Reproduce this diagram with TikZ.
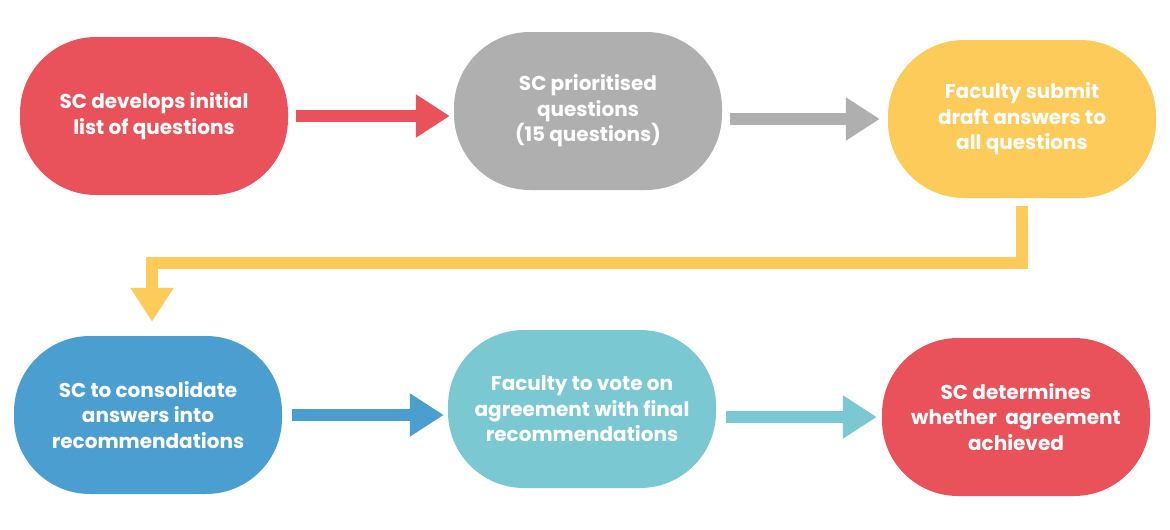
\documentclass[tikz,border=0pt]{standalone}
\usepackage{fontspec}
\setmainfont{Poppins}
\usepackage{tikz}
\usetikzlibrary{arrows.meta,positioning,calc}
\definecolor{cred}{HTML}{E9525A}
\definecolor{cgray}{HTML}{AFAFAF}
\definecolor{cyellow}{HTML}{FDCB5A}
\definecolor{cblue}{HTML}{4A9FD0}
\definecolor{cteal}{HTML}{79C8D2}

\begin{document}
\begin{tikzpicture}[x=1pt,y=-1pt,node distance=434pt,font=\bfseries\fontsize{20}{25.5}\selectfont]
	\tikzstyle{blob}=[rounded corners=76pt,minimum width=268pt,minimum height=158pt,text=white,align=center]
	\tikzstyle{flow}=[line width=12pt,-{Triangle[width=41pt,length=34pt]},shorten <=8pt,shorten >=4pt]
	\useasboundingbox (0,0) rectangle (1170,530);
	
	\node[blob,fill=cred](1) at (154,116){SC develops initial\\list of questions};
	\node[blob,fill=cgray](2)[right of=1,yshift=5pt]{SC prioritised\\questions\\(15 questions)};
	\node[blob,fill=cyellow](3)[right of=2,yshift=-8pt]{Faculty submit\\draft answers to\\all questions};
	\node[blob,fill=cblue](4) at (148,415){SC to consolidate\\answers into\\recommendations};
	\node[blob,fill=cteal](5)[right of=4,yshift=6pt]{Faculty to vote on\\agreement with final\\recommendations};
	\node[blob,fill=cred](6)[right of=5,yshift=-8pt]{SC determines\\whether\ \ agreement\\achieved};
	
	\draw[flow,cred] (1.east) -- (1.east -| 2.west);
	\draw[flow,cgray,shorten >=8pt] (2.east |- 3.west) -- (3.west);
	\draw[flow,cyellow,shorten >=14pt] (3.south) -- ++(0,65) -| ([xshift=4pt]4.north);
	\draw[flow,cblue,shorten <=10pt] (4.east) -- (4.east -| 5.west);
	\draw[flow,cteal,shorten <=10pt,shorten >=5pt] (5.east |- 6.west) -- (6.west);
\end{tikzpicture}
\end{document}
